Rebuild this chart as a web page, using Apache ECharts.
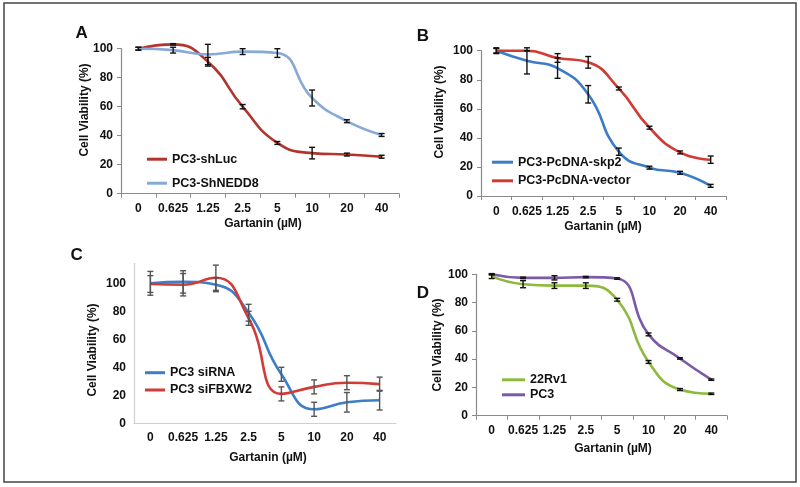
<!DOCTYPE html>
<html>
<head>
<meta charset="utf-8">
<script src="https://cdn.jsdelivr.net/npm/echarts@6/dist/echarts.min.js"></script>
<style>html,body{margin:0;padding:0;background:#fff}#c{width:800px;height:487px}</style>
</head>
<body>
<div id="c"></div>
<script>
// ---- data ----
const categories = ['0', '0.625', '1.25', '2.5', '5', '10', '20', '40'];

// Panel A
const aShLuc = [100, 103, 91, 60, 35, 28, 27, 25.5];
const aShLucErr = [1, 0.5, 3, 1.5, 1, 4, 1, 1];
const aShNEDD8 = [100, 99, 96, 98, 97, 66, 50, 40.5];
const aShNEDD8Err = [1, 2, 7, 2, 3, 5.5, 1, 1];

// Panel B
const bSkp2 = [100, 93, 88, 70, 30.5, 19.5, 16, 7];
const bSkp2Err = [1.5, 9, 7, 6, 2.5, 1, 1, 1];
const bVector = [100, 100, 95, 92, 74, 47, 30, 25];
const bVectorErr = [2, 0, 3, 4, 1, 1, 1, 2.5];

// Panel C
const cSiRNA = [100, 101, 99, 79, 35, 10, 15, 16.5];
const cSiRNAErr = [8.5, 8, 5, 6, 5, 5, 7, 7];
const cSiFBXW2 = [99.5, 99, 104, 75, 21, 26, 29, 28];
const cSiFBXW2Err = [6, 8, 9, 5, 5, 5, 5, 5];

// Panel D
const d22Rv1 = [98.5, 93, 92, 92, 82, 38, 18.5, 15.5];
const d22Rv1Err = [1.5, 2.5, 2, 2, 1, 1, 0.7, 0.5];
const dPC3 = [100, 97.5, 97.5, 98, 97, 57.5, 40.5, 25.5];
const dPC3Err = [0.5, 0.5, 1.5, 0.5, 0.5, 1, 0.5, 0.5];

// ---- styling ----
const FONT = 'Liberation Sans, Arial, sans-serif';
const panels = [
  {grid: {left: 121, top: 48.7, width: 278, height: 145}, max: 100, axisColor: '#8a8a8a', ticks: true, labelMargin: 9},
  {grid: {left: 481, top: 50.7, width: 245, height: 145.3}, max: 100, axisColor: '#8a8a8a', ticks: true, labelMargin: 10},
  {grid: {left: 134, top: 263.3, width: 262, height: 160}, max: 114.3, axisColor: '#cfcfcf', ticks: false, labelMargin: 8},
  {grid: {left: 476, top: 274.3, width: 251, height: 141.4}, max: 100, axisColor: '#8a8a8a', ticks: true, labelMargin: 9}
];

const grids = panels.map(p => Object.assign({containLabel: false}, p.grid));
const xAxes = panels.map((p, i) => ({
  type: 'category', gridIndex: i, data: categories, boundaryGap: true,
  axisLine: {show: true, lineStyle: {color: p.axisColor, width: 1.2}},
  axisTick: {show: p.ticks, length: 4, inside: false, lineStyle: {color: p.axisColor}},
  axisLabel: {margin: p.labelMargin, color: '#111', fontFamily: FONT, fontWeight: 'bold', fontSize: 12, interval: 0},
  splitLine: {show: false}
}));
const yAxes = panels.map((p, i) => ({
  type: 'value', gridIndex: i, min: 0, max: p.max, interval: 20,
  axisLine: {show: true, lineStyle: {color: p.axisColor, width: 1.2}},
  axisTick: {show: p.ticks, length: 4, lineStyle: {color: p.axisColor}},
  axisLabel: {margin: 8, color: '#111', fontFamily: FONT, fontWeight: 'bold', fontSize: 12, showMaxLabel: p.max === 100,
    formatter: v => (v > 100 ? '' : String(v))},
  splitLine: {show: false}
}));

function lineSeries(name, data, color, idx) {
  return {
    name: name, type: 'line', xAxisIndex: idx, yAxisIndex: idx, data: data,
    smooth: 0.5, showSymbol: false, symbol: 'none', clip: false,
    lineStyle: {color: color, width: 2.6}, itemStyle: {color: color}, z: 3
  };
}
function errSeries(values, errs, color, idx) {
  return {
    type: 'custom', xAxisIndex: idx, yAxisIndex: idx, clip: false, z: 4, silent: true,
    data: values.map((v, k) => [k, v, errs[k]]),
    encode: {x: 0, y: 1},
    renderItem: function (params, api) {
      const x = api.value(0), y = api.value(1), e = api.value(2);
      const lo = api.coord([x, y - e]);
      const hi = api.coord([x, y + e]);
      const cx = lo[0], w = 3;
      const st = {stroke: color, lineWidth: 1.4};
      return {
        type: 'group', children: [
          {type: 'line', shape: {x1: cx, y1: lo[1], x2: cx, y2: hi[1]}, style: st},
          {type: 'line', shape: {x1: cx - w, y1: lo[1], x2: cx + w, y2: lo[1]}, style: st},
          {type: 'line', shape: {x1: cx - w, y1: hi[1], x2: cx + w, y2: hi[1]}, style: st}
        ]
      };
    }
  };
}

const colA1 = '#b2352d', colA2 = '#87a9d7';
const colB1 = '#3b7cc6', colB2 = '#d13b34';
const colC1 = '#3d7ec6', colC2 = '#d23b37';
const colD1 = '#8dba3d', colD2 = '#7b5ba6';

const series = [
  lineSeries('PC3-shLuc', aShLuc, colA1, 0),
  lineSeries('PC3-ShNEDD8', aShNEDD8, colA2, 0),
  errSeries(aShLuc, aShLucErr, '#111', 0),
  errSeries(aShNEDD8, aShNEDD8Err, '#111', 0),
  lineSeries('PC3-PcDNA-skp2', bSkp2, colB1, 1),
  lineSeries('PC3-PcDNA-vector', bVector, colB2, 1),
  errSeries(bSkp2, bSkp2Err, '#111', 1),
  errSeries(bVector, bVectorErr, '#111', 1),
  lineSeries('PC3 siRNA', cSiRNA, colC1, 2),
  lineSeries('PC3 siFBXW2', cSiFBXW2, colC2, 2),
  errSeries(cSiRNA, cSiRNAErr, '#555', 2),
  errSeries(cSiFBXW2, cSiFBXW2Err, '#555', 2),
  lineSeries('22Rv1', d22Rv1, colD1, 3),
  lineSeries('PC3', dPC3, colD2, 3),
  errSeries(d22Rv1, d22Rv1Err, '#111', 3),
  errSeries(dPC3, dPC3Err, '#111', 3)
];

function legend(names, left, top, gap, w) {
  return {
    data: names, left: left, top: top, orient: 'vertical', itemGap: gap,
    itemWidth: w, itemHeight: 3, icon: 'rect', selectedMode: false,
    textStyle: {fontFamily: FONT, fontWeight: 'bold', fontSize: 12.5, color: '#111', lineHeight: 14}
  };
}

function txt(s, x, y, size, rot) {
  return {
    type: 'text', x: x, y: y, rotation: rot ? Math.PI / 2 : 0,
    style: {text: s, fontFamily: FONT, fontWeight: 'bold', fontSize: size, fill: '#111', align: 'center', verticalAlign: 'middle'}
  };
}

const option = {
  animation: false,
  backgroundColor: '#fff',
  grid: grids, xAxis: xAxes, yAxis: yAxes, series: series,
  legend: [
    legend(['PC3-shLuc', 'PC3-ShNEDD8'], 142, 147.2, 10, 20),
    legend(['PC3-PcDNA-skp2', 'PC3-PcDNA-vector'], 487, 150.2, 4.6, 21),
    legend(['PC3 siRNA', 'PC3 siFBXW2'], 140, 360.7, 3.3, 20),
    legend(['22Rv1', 'PC3'], 497, 367.8, 1, 23)
  ],
  graphic: [
    {type: 'rect', shape: {x: 4, y: 3, width: 792, height: 479}, style: {fill: 'none', stroke: '#444', lineWidth: 1.5}},
    txt('A', 81.7, 33, 17), txt('B', 423, 36, 17), txt('C', 76.7, 255, 17), txt('D', 423, 293, 17),
    txt('Cell Viability (%)', 85, 110, 12, true),
    txt('Cell Viability (%)', 440, 112, 12, true),
    txt('Cell Viability (%)', 93, 350, 12, true),
    txt('Cell Viability (%)', 438, 345, 12, true),
    txt('Gartanin (µM)', 263, 224, 12),
    txt('Gartanin (µM)', 603, 227, 12),
    txt('Gartanin (µM)', 268, 458, 12),
    txt('Gartanin (µM)', 613, 449, 12)
  ]
};

const chart = echarts.init(document.getElementById('c'), null, {renderer: 'canvas'});
chart.setOption(option);
</script>
</body>
</html>
